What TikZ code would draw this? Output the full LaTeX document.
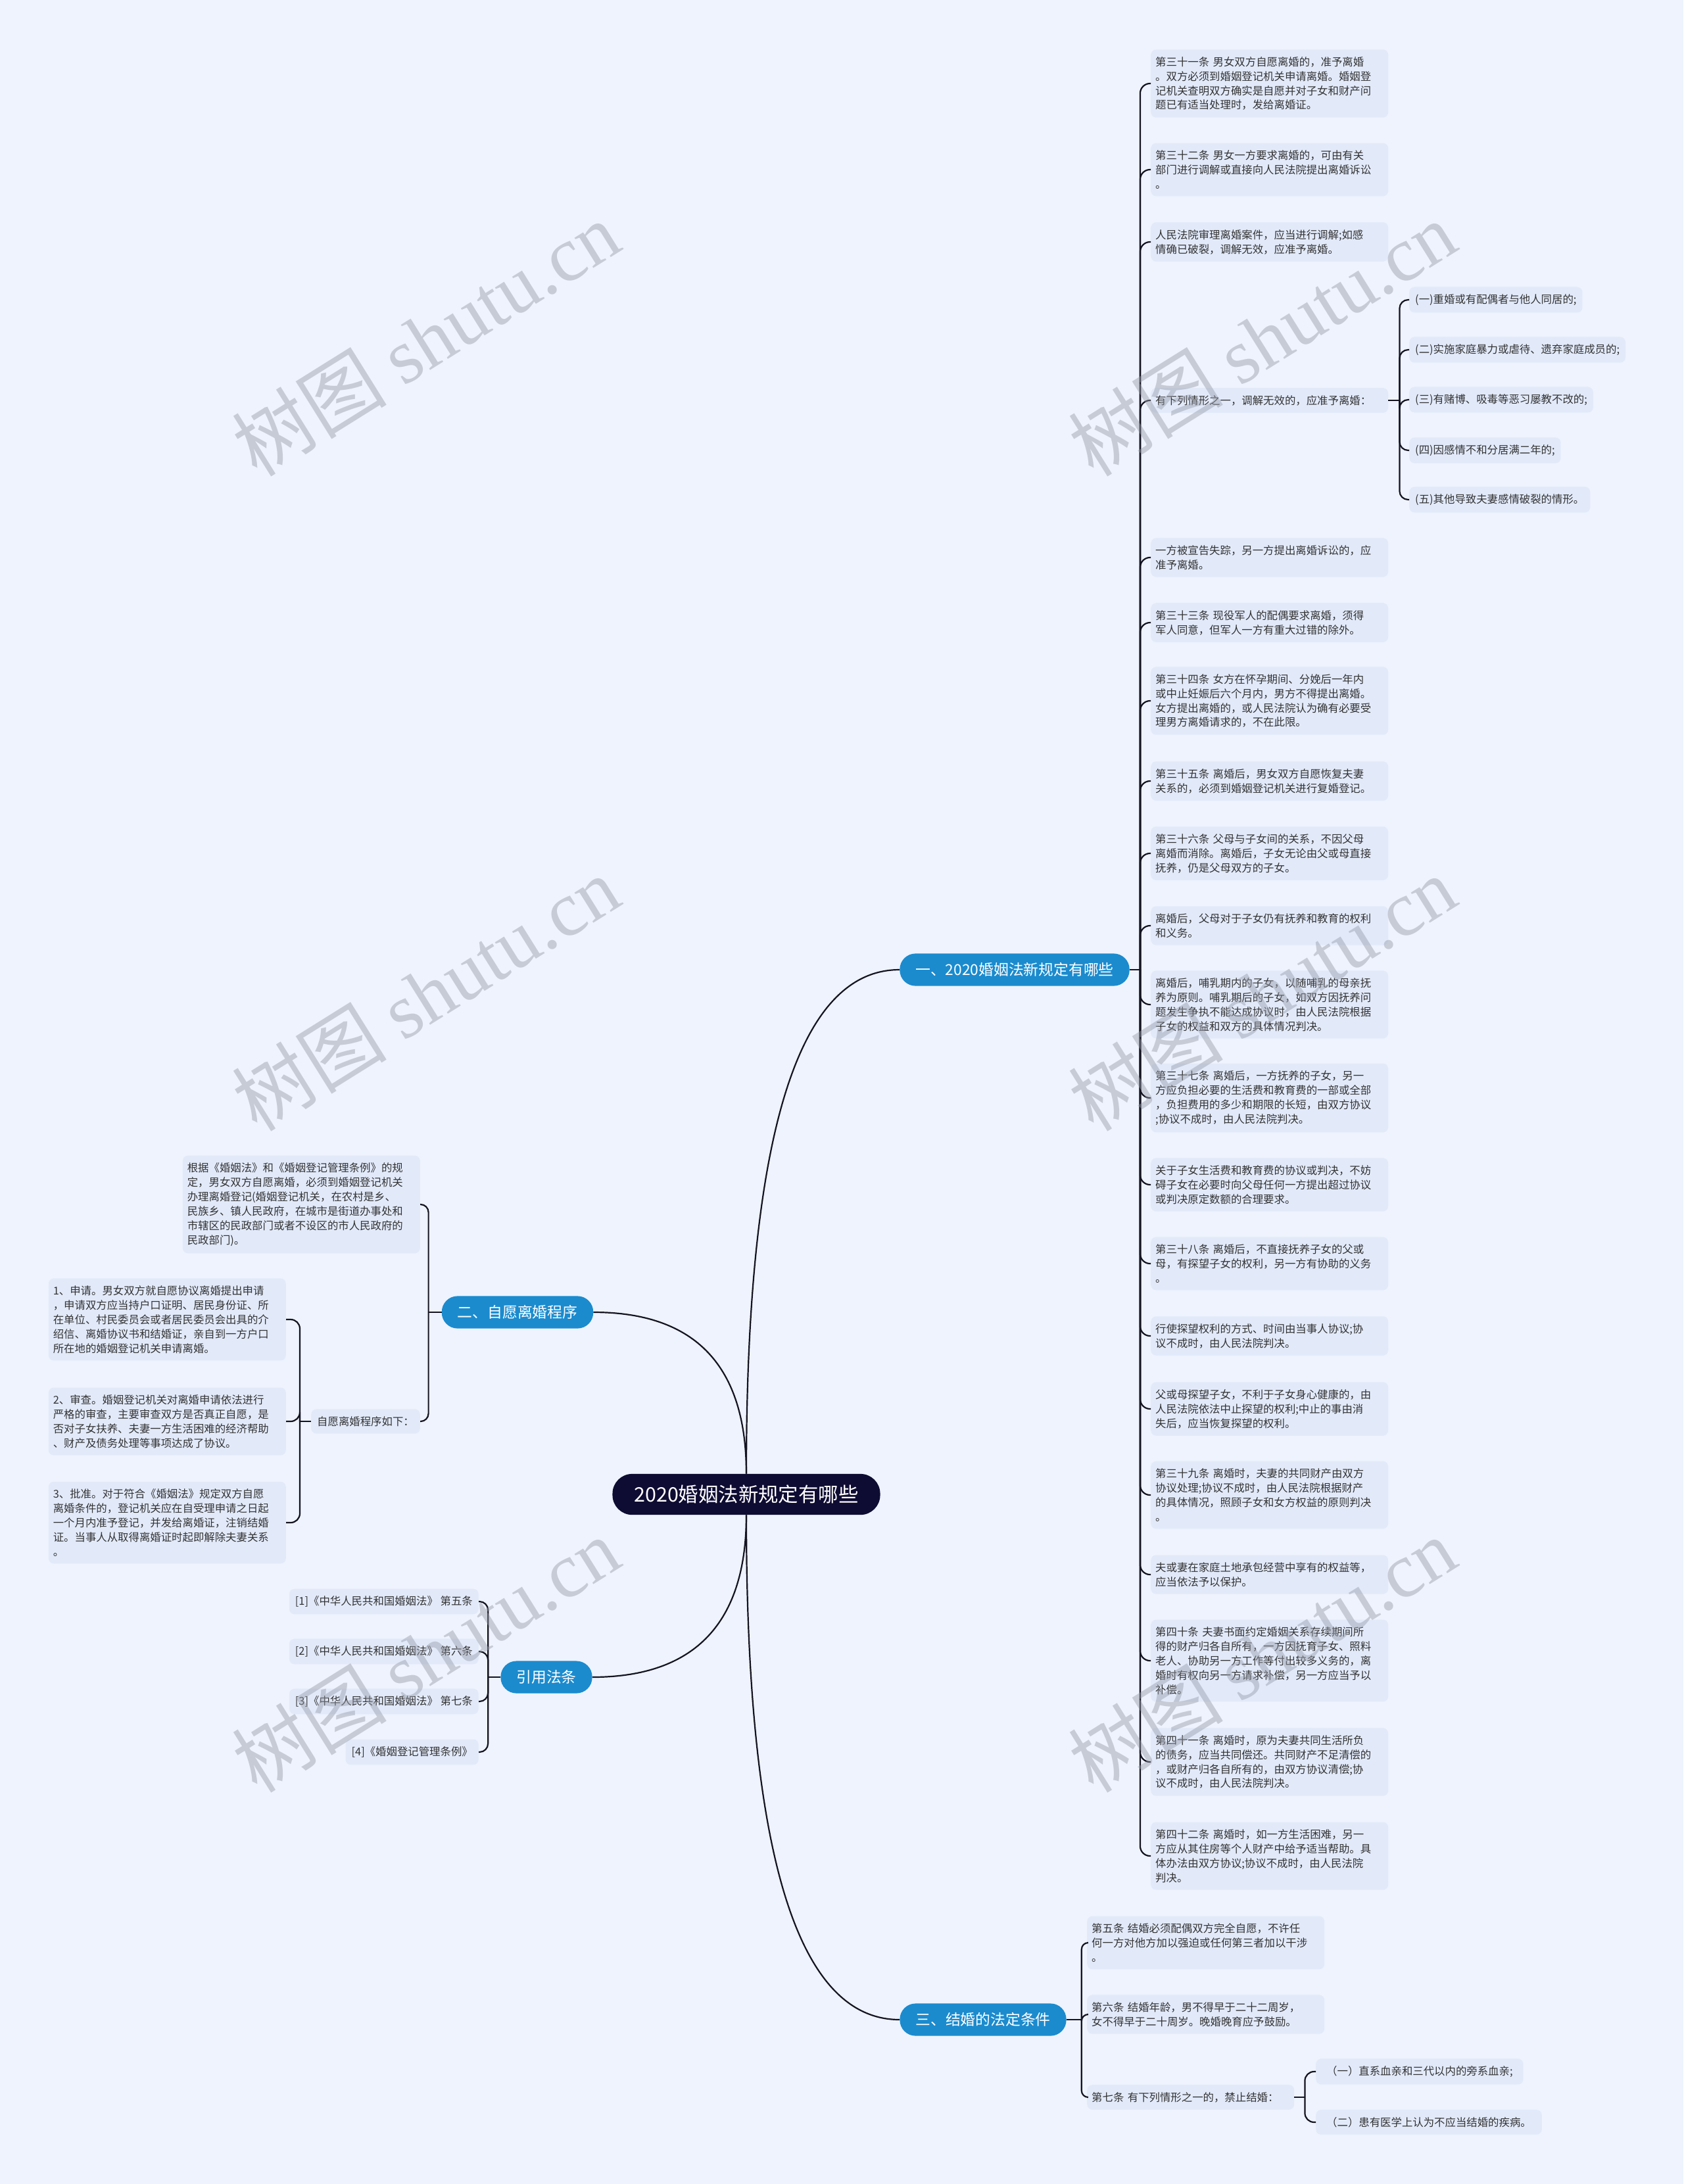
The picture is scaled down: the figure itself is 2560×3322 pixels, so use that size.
\documentclass[tikz,border=0pt]{standalone}
\usepackage{fontspec}
\setmainfont{Noto Sans CJK SC}
\newfontfamily\wmfont{Liberation Serif}

\definecolor{bgcol}{RGB}{238,243,253}
\definecolor{leafcol}{RGB}{226,234,250}
\definecolor{bluecol}{RGB}{27,139,206}
\definecolor{rootcol}{RGB}{14,12,50}
\definecolor{linecol}{RGB}{20,20,32}
\definecolor{textcol}{RGB}{51,51,51}
\definecolor{wmcol}{RGB}{150,155,168}

\tikzset{
  rootbox/.style={fill=rootcol, text=white, rounded corners=30pt, inner xsep=33pt, inner ysep=17pt, font=\fontsize{30.4}{36}\selectfont},
  branchbox/.style={fill=bluecol, text=white, rounded corners=24pt, inner xsep=24pt, inner ysep=14pt, font=\fontsize{22.8}{27}\selectfont},
  leafbox/.style={fill=leafcol, text=textcol, rounded corners=8pt, inner xsep=9pt, inner ysep=11pt, align=left, font=\fontsize{16.4}{21.9}\selectfont},
  wideleaf/.style={leafbox, inner xsep=7pt, text width=347pt},
  link/.style={draw=linecol, line width=2.2pt},
  wmark/.style={rotate=32, text=wmcol, text opacity=0.45, font=\fontsize{118}{118}\selectfont}
}

\begin{document}
\begin{tikzpicture}[x=1pt, y=-1pt]
\fill[bgcol] (0,0) rectangle (2560,3322);
\useasboundingbox (0,0) rectangle (2560,3322);

% centre and main branches
\node[rootbox] (root) at (1135,2273) {2020婚姻法新规定有哪些};
\node[branchbox] (new) at (1543,1475) {一、2020婚姻法新规定有哪些};
\node[branchbox] (proc) at (787,1996) {二、自愿离婚程序};
\node[branchbox] (cite) at (831,2551) {引用法条};
\node[branchbox] (cond) at (1495,3072) {三、结婚的法定条件};

\draw[link] (root.north) .. controls +(0,-510) and +(-156,0) .. (new.west);
\draw[link] (root.north) .. controls +(0,-163) and +(156,0) .. (proc.east);
\draw[link] (root.south) .. controls +(0,163) and +(157,0) .. (cite.east);
\draw[link] (root.south) .. controls +(0,511) and +(-157,0) .. (cond.west);

% branch one
\node[wideleaf, anchor=west] (a1) at (1750,127) {第三十一条 男女双方自愿离婚的，准予离婚\\。双方必须到婚姻登记机关申请离婚。婚姻登\\记机关查明双方确实是自愿并对子女和财产问\\题已有适当处理时，发给离婚证。};
\node[wideleaf, anchor=west] (a2) at (1750,258) {第三十二条 男女一方要求离婚的，可由有关\\部门进行调解或直接向人民法院提出离婚诉讼\\。};
\node[wideleaf, anchor=west] (a3) at (1750,368) {人民法院审理离婚案件，应当进行调解;如感\\情确已破裂，调解无效，应准予离婚。};
\node[wideleaf, anchor=west] (a4) at (1750,609) {有下列情形之一，调解无效的，应准予离婚：};
\node[wideleaf, anchor=west] (a5) at (1750,848) {一方被宣告失踪，另一方提出离婚诉讼的，应\\准予离婚。};
\node[wideleaf, anchor=west] (a6) at (1750,947) {第三十三条 现役军人的配偶要求离婚，须得\\军人同意，但军人一方有重大过错的除外。};
\node[wideleaf, anchor=west] (a7) at (1750,1066) {第三十四条 女方在怀孕期间、分娩后一年内\\或中止妊娠后六个月内，男方不得提出离婚。\\女方提出离婚的，或人民法院认为确有必要受\\理男方离婚请求的，不在此限。};
\node[wideleaf, anchor=west] (a8) at (1750,1188) {第三十五条 离婚后，男女双方自愿恢复夫妻\\关系的，必须到婚姻登记机关进行复婚登记。};
\node[wideleaf, anchor=west] (a9) at (1750,1298) {第三十六条 父母与子女间的关系，不因父母\\离婚而消除。离婚后，子女无论由父或母直接\\抚养，仍是父母双方的子女。};
\node[wideleaf, anchor=west] (a10) at (1750,1408) {离婚后，父母对于子女仍有抚养和教育的权利\\和义务。};
\node[wideleaf, anchor=west] (a11) at (1750,1528) {离婚后，哺乳期内的子女，以随哺乳的母亲抚\\养为原则。哺乳期后的子女，如双方因抚养问\\题发生争执不能达成协议时，由人民法院根据\\子女的权益和双方的具体情况判决。};
\node[wideleaf, anchor=west] (a12) at (1750,1670) {第三十七条 离婚后，一方抚养的子女，另一\\方应负担必要的生活费和教育费的一部或全部\\，负担费用的多少和期限的长短，由双方协议\\;协议不成时，由人民法院判决。};
\node[wideleaf, anchor=west] (a13) at (1750,1802) {关于子女生活费和教育费的协议或判决，不妨\\碍子女在必要时向父母任何一方提出超过协议\\或判决原定数额的合理要求。};
\node[wideleaf, anchor=west] (a14) at (1750,1922) {第三十八条 离婚后，不直接抚养子女的父或\\母，有探望子女的权利，另一方有协助的义务\\。};
\node[wideleaf, anchor=west] (a15) at (1750,2032) {行使探望权利的方式、时间由当事人协议;协\\议不成时，由人民法院判决。};
\node[wideleaf, anchor=west] (a16) at (1750,2143) {父或母探望子女，不利于子女身心健康的，由\\人民法院依法中止探望的权利;中止的事由消\\失后，应当恢复探望的权利。};
\node[wideleaf, anchor=west] (a17) at (1750,2274) {第三十九条 离婚时，夫妻的共同财产由双方\\协议处理;协议不成时，由人民法院根据财产\\的具体情况，照顾子女和女方权益的原则判决\\。};
\node[wideleaf, anchor=west] (a18) at (1750,2395) {夫或妻在家庭土地承包经营中享有的权益等，\\应当依法予以保护。};
\node[wideleaf, anchor=west] (a19) at (1750,2526) {第四十条 夫妻书面约定婚姻关系存续期间所\\得的财产归各自所有，一方因抚育子女、照料\\老人、协助另一方工作等付出较多义务的，离\\婚时有权向另一方请求补偿，另一方应当予以\\补偿。};
\node[wideleaf, anchor=west] (a20) at (1750,2680) {第四十一条 离婚时，原为夫妻共同生活所负\\的债务，应当共同偿还。共同财产不足清偿的\\，或财产归各自所有的，由双方协议清偿;协\\议不成时，由人民法院判决。};
\node[wideleaf, anchor=west] (a21) at (1750,2823) {第四十二条 离婚时，如一方生活困难，另一\\方应从其住房等个人财产中给予适当帮助。具\\体办法由双方协议;协议不成时，由人民法院\\判决。};

\node[leafbox, anchor=west] (s1) at (2143,456) {(一)重婚或有配偶者与他人同居的;};
\node[leafbox, anchor=west] (s2) at (2143,532) {(二)实施家庭暴力或虐待、遗弃家庭成员的;};
\node[leafbox, anchor=west] (s3) at (2143,608) {(三)有赌博、吸毒等恶习屡教不改的;};
\node[leafbox, anchor=west] (s4) at (2143,685) {(四)因感情不和分居满二年的;};
\node[leafbox, anchor=west] (s5) at (2143,760) {(五)其他导致夫妻感情破裂的情形。};

\coordinate (newhub) at ([xshift=16pt]new.east);
\draw[link] (new.east) -- (newhub);
\foreach \i in {1,...,21}
  \draw[link, rounded corners=15pt] (newhub) |- (a\i.west);
\coordinate (a4hub) at ([xshift=17pt]a4.east);
\draw[link] (a4.east) -- (a4hub);
\foreach \i in {1,...,5}
  \draw[link, rounded corners=13pt] (a4hub) |- (s\i.west);

% branch two
\node[wideleaf, anchor=east] (g0) at (639,1832) {根据《婚姻法》和《婚姻登记管理条例》的规\\定，男女双方自愿离婚，必须到婚姻登记机关\\办理离婚登记(婚姻登记机关，在农村是乡、\\民族乡、镇人民政府，在城市是街道办事处和\\市辖区的民政部门或者不设区的市人民政府的\\民政部门)。};
\node[leafbox, anchor=east] (g1) at (639,2162) {自愿离婚程序如下：};
\node[wideleaf, anchor=east] (p1) at (435,2007) {1、申请。男女双方就自愿协议离婚提出申请\\，申请双方应当持户口证明、居民身份证、所\\在单位、村民委员会或者居民委员会出具的介\\绍信、离婚协议书和结婚证，亲自到一方户口\\所在地的婚姻登记机关申请离婚。};
\node[wideleaf, anchor=east] (p2) at (435,2162) {2、审查。婚姻登记机关对离婚申请依法进行\\严格的审查，主要审查双方是否真正自愿，是\\否对子女扶养、夫妻一方生活困难的经济帮助\\、财产及债务处理等事项达成了协议。};
\node[wideleaf, anchor=east] (p3) at (435,2316) {3、批准。对于符合《婚姻法》规定双方自愿\\离婚条件的，登记机关应在自受理申请之日起\\一个月内准予登记，并发给离婚证，注销结婚\\证。当事人从取得离婚证时起即解除夫妻关系\\。};

\coordinate (prochub) at ([xshift=-20pt]proc.west);
\draw[link] (proc.west) -- (prochub);
\foreach \i in {0,1}
  \draw[link, rounded corners=12pt] (prochub) |- (g\i.east);
\coordinate (g1hub) at ([xshift=-17pt]g1.west);
\draw[link] (g1.west) -- (g1hub);
\foreach \i in {1,2,3}
  \draw[link, rounded corners=14pt] (g1hub) |- (p\i.east);

% cited articles
\node[leafbox, anchor=east] (r1) at (728,2436) {[1]《中华人民共和国婚姻法》 第五条};
\node[leafbox, anchor=east] (r2) at (728,2512) {[2]《中华人民共和国婚姻法》 第六条};
\node[leafbox, anchor=east] (r3) at (728,2588) {[3]《中华人民共和国婚姻法》 第七条};
\node[leafbox, anchor=east] (r4) at (728,2665) {[4]《婚姻登记管理条例》};

\coordinate (citehub) at ([xshift=-19pt]cite.west);
\draw[link] (cite.west) -- (citehub);
\foreach \i in {1,...,4}
  \draw[link, rounded corners=13pt] (citehub) |- (r\i.east);

% branch three
\node[wideleaf, anchor=west] (m1) at (1653,2955) {第五条 结婚必须配偶双方完全自愿，不许任\\何一方对他方加以强迫或任何第三者加以干涉\\。};
\node[wideleaf, anchor=west] (m2) at (1653,3064) {第六条 结婚年龄，男不得早于二十二周岁，\\女不得早于二十周岁。晚婚晚育应予鼓励。};
\node[leafbox, anchor=west, inner xsep=7pt, text width=301pt] (m3) at (1653,3190) {第七条 有下列情形之一的，禁止结婚：};
\node[leafbox, anchor=west, inner xsep=16pt] (n1) at (2001,3151) {（一）直系血亲和三代以内的旁系血亲;};
\node[leafbox, anchor=west, inner xsep=16pt] (n2) at (2001,3228) {（二）患有医学上认为不应当结婚的疾病。};

\coordinate (condhub) at ([xshift=23pt]cond.east);
\draw[link] (cond.east) -- (condhub);
\foreach \i in {1,2,3}
  \draw[link, rounded corners=10pt] (condhub) |- (m\i.west);
\coordinate (m3hub) at ([xshift=16pt]m3.east);
\draw[link] (m3.east) -- (m3hub);
\foreach \i in {1,2}
  \draw[link, rounded corners=14pt] (m3hub) |- (n\i.west);

% watermarks
\foreach \wx/\wy in {647/515, 1919/515, 647/1511, 1919/1511, 647/2517, 1919/2517}
  \node[wmark] at (\wx,\wy) {树图 {\wmfont shutu.cn}};
\end{tikzpicture}
\end{document}
